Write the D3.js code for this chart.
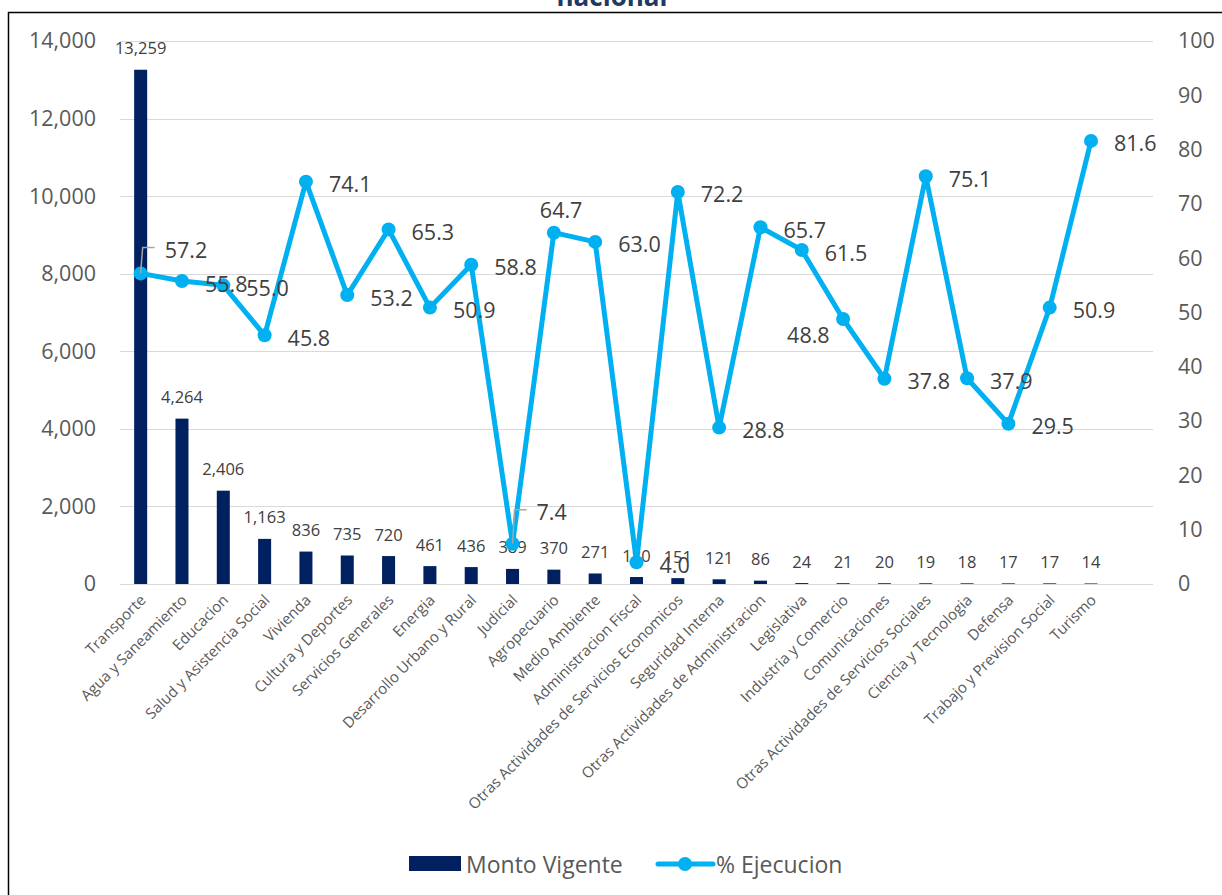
<!DOCTYPE html>
<html><head><meta charset="utf-8">
<script src="https://cdn.jsdelivr.net/npm/d3@7"></script>
<style>
html,body{margin:0;padding:0;background:#fff;}
svg{display:block;font-family:"Open Sans","Noto Sans",sans-serif;}
</style></head>
<body><svg id="c" width="1222" height="895"></svg>
<script>
const categories = ["Transporte","Agua y Saneamiento","Educacion","Salud y Asistencia Social","Vivienda","Cultura y Deportes","Servicios Generales","Energia","Desarrollo Urbano y Rural","Judicial","Agropecuario","Medio Ambiente","Administracion Fiscal","Otras Actividades de Servicios Economicos","Seguridad Interna","Otras Actividades de Administracion","Legislativa","Industria y Comercio","Comunicaciones","Otras Actividades de Servicios Sociales","Ciencia y Tecnologia","Defensa","Trabajo y Prevision Social","Turismo"];
const montoVigente = [13259,4264,2406,1163,836,735,720,461,436,389,370,271,180,151,121,86,24,21,20,19,18,17,17,14];
const ejecucion = [57.2,55.8,55.0,45.8,74.1,53.2,65.3,50.9,58.8,7.4,64.7,63.0,4.0,72.2,28.8,65.7,61.5,48.8,37.8,75.1,37.9,29.5,50.9,81.6];
const leftTicks = [0,2000,4000,6000,8000,10000,12000,14000];
const rightTicks = [0,10,20,30,40,50,60,70,80,90,100];
const seriesNames = ["Monto Vigente","% Ejecucion"];
const titleText = "nacional";

const svg = d3.select("#c");
const L = 120, R = 1153, T = 41, B = 584;
const slots = categories.length + 1;
const step = (R - L) / slots;
const x = d3.scaleBand().domain(categories).range([L, L + step*categories.length]).paddingInner(0.685).paddingOuter(0.3425);
const yL = d3.scaleLinear().domain([0,14000]).range([B,T]);
const yR = d3.scaleLinear().domain([0,100]).range([B,T]);
const cx = c => x(c) + x.bandwidth()/2;

// border
svg.append("path").attr("d","M8.5,895 L8.5,12.5 L1222,12.5").attr("fill","none").attr("stroke","#000").attr("stroke-width",1.5);

// title (cut)
svg.append("text").attr("x",612).attr("y",6).attr("text-anchor","middle")
  .attr("font-size",26).attr("font-weight","bold").attr("fill","#203864").text(titleText);

// gridlines
svg.append("g").selectAll("line").data(leftTicks).join("line")
  .attr("x1",L).attr("x2",R).attr("y1",d=>Math.round(yL(d))+0.5).attr("y2",d=>Math.round(yL(d))+0.5)
  .attr("stroke","#D9D9D9").attr("stroke-width",1.2);

// left axis
const axL = d3.axisLeft(yL).tickValues(leftTicks).tickFormat(d3.format(",")).tickSize(0).tickPadding(0);
const gL = svg.append("g").attr("transform",`translate(96,0)`).call(axL);
gL.select(".domain").remove();
gL.selectAll("text").attr("font-size",21.5).attr("fill","#595959").attr("font-family","Open Sans");

// right axis
const axR = d3.axisRight(yR).tickValues(rightTicks).tickSize(0).tickPadding(0);
const gR = svg.append("g").attr("transform",`translate(1178,0)`).call(axR);
gR.select(".domain").remove();
gR.selectAll("text").attr("font-size",21.5).attr("fill","#595959").attr("font-family","Open Sans");

// bars
svg.append("g").selectAll("rect").data(categories).join("rect")
  .attr("x",d=>x(d)).attr("width",x.bandwidth())
  .attr("y",(d,i)=>yL(montoVigente[i])).attr("height",(d,i)=>B-yL(montoVigente[i]))
  .attr("fill","#002060");

// bar labels
svg.append("g").selectAll("text").data(categories).join("text")
  .attr("x",d=>cx(d)).attr("y",(d,i)=>yL(montoVigente[i])-22)
  .attr("text-anchor","middle").attr("dominant-baseline","central")
  .attr("font-size",16.5).attr("fill","#404040")
  .text((d,i)=>d3.format(",")(montoVigente[i]));

// category labels
svg.append("g").selectAll("text").data(categories).join("text")
  .attr("transform",d=>`translate(${cx(d)+6},${601}) rotate(-45)`)
  .attr("text-anchor","end").attr("font-size",15).attr("fill","#595959")
  .text(d=>d);

// line
const line = d3.line().x((d,i)=>cx(categories[i])).y(d=>yR(d));
svg.append("path").datum(ejecucion).attr("d",line).attr("fill","none")
  .attr("stroke","#00B0F0").attr("stroke-width",5).attr("stroke-linejoin","round");
svg.append("g").selectAll("circle").data(ejecucion).join("circle")
  .attr("cx",(d,i)=>cx(categories[i])).attr("cy",d=>yR(d)).attr("r",7).attr("fill","#00B0F0");

// line labels with offsets
const offs = {0:[24,-24,true],9:[24,-32,true],10:[-14,-23,false],17:[-56,15,false]};
const lg = svg.append("g");
ejecucion.forEach((v,i)=>{
  const px = cx(categories[i]), py = yR(v);
  let dx = 23, dy = 2, lead = false;
  if (offs[i]) { dx = offs[i][0]; dy = offs[i][1]; lead = offs[i][2]; }
  if (lead) {
    lg.append("path").attr("d",`M${px},${py} L${px+2},${py+dy-2} L${px+dx-10},${py+dy-2}`)
      .attr("fill","none").attr("stroke","#A6A6A6").attr("stroke-width",1.5);
  }
  lg.append("text").attr("x",px+dx).attr("y",py+dy).attr("dominant-baseline","central")
    .attr("font-size",21.5).attr("fill","#404040").text(d3.format(".1f")(v));
});

// legend
const leg = svg.append("g");
leg.append("rect").attr("x",409).attr("y",856).attr("width",52).attr("height",15).attr("fill","#002060");
leg.append("text").attr("x",466).attr("y",864).attr("dominant-baseline","central").attr("font-size",23).attr("fill","#595959").text(seriesNames[0]);
leg.append("line").attr("x1",658).attr("x2",713).attr("y1",864).attr("y2",864).attr("stroke","#00B0F0").attr("stroke-width",5).attr("stroke-linecap","round");
leg.append("circle").attr("cx",685).attr("cy",864).attr("r",7).attr("fill","#00B0F0");
leg.append("text").attr("x",716).attr("y",864).attr("dominant-baseline","central").attr("font-size",23).attr("fill","#595959").text(seriesNames[1]);
</script></body></html>
